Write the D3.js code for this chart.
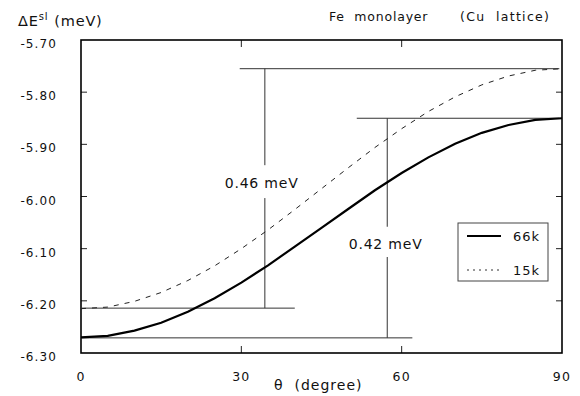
<!DOCTYPE html>
<html>
<head>
<meta charset="utf-8">
<script src="https://cdnjs.cloudflare.com/ajax/libs/d3/7.8.5/d3.min.js"></script>
<style>
  body { margin: 0; background: #fff; }
  text { font-family: "DejaVu Sans", sans-serif; fill: #111; }
</style>
</head>
<body>
<div id="wrapper"></div>
<script>
// angles (degree) and anisotropy energy (meV)
var theta = [0, 5, 10, 15, 20, 25, 30, 35, 40, 45, 50, 55, 60, 65, 70, 75, 80, 85, 90];
var e66k  = [-6.270, -6.267, -6.257, -6.242, -6.221, -6.195, -6.165, -6.132, -6.096, -6.060,
             -6.024, -5.988, -5.955, -5.925, -5.899, -5.878, -5.863, -5.853, -5.850];
var e15k  = [-6.215, -6.212, -6.201, -6.184, -6.161, -6.133, -6.100, -6.064, -6.025, -5.985,
             -5.945, -5.906, -5.870, -5.837, -5.809, -5.786, -5.769, -5.758, -5.755];
var seriesNames = ['66k', '15k'];

var xTicks = [0, 30, 60, 90];
var yTicks = [-5.70, -5.80, -5.90, -6.00, -6.10, -6.20, -6.30];

// differences min -> max for each k-mesh
var gapLabels = ['0.46 meV', '0.42 meV'];
var gapTheta  = [34.4, 57.3];
var gapLow    = [-6.214, -6.271];
var gapHigh   = [-5.755, -5.850];
var lowFrom   = [0, 0],      lowTo  = [40, 62];
var highFrom  = [29.7, 51.6], highTo = [89.5, 89.5];
var breakTop  = [-5.940, -6.058];   // vertical line stops above the label
var breakBot  = [-6.003, -6.116];   // and starts again under it
var labelTheta = [33.8, 57.0];
var labelE     = [-5.974, -6.091];

var W = 580, H = 396;
var m = {left: 81, right: 18, top: 40, bottom: 43};

var svg = d3.select('#wrapper').append('svg')
    .attr('width', W).attr('height', H);

var x = d3.scaleLinear().domain([0, 90]).range([m.left, W - m.right]);
var y = d3.scaleLinear().domain([-6.30, -5.70]).range([H - m.bottom, m.top]);

// inner ticks on the four sides
var inX = xTicks.slice(1, -1), inY = yTicks.slice(1, -1);
var ax = svg.append('g');
ax.selectAll('.tl').data(inY).enter().append('line')
    .attr('x1', x(0)).attr('x2', x(0) + 6).attr('y1', d => y(d)).attr('y2', d => y(d));
ax.selectAll('.tr').data(inY).enter().append('line')
    .attr('x1', x(90)).attr('x2', x(90) - 6).attr('y1', d => y(d)).attr('y2', d => y(d));
ax.selectAll('.tb').data(inX).enter().append('line')
    .attr('x1', d => x(d)).attr('x2', d => x(d)).attr('y1', y(-6.30)).attr('y2', y(-6.30) - 7);
ax.selectAll('.tt').data(inX).enter().append('line')
    .attr('x1', d => x(d)).attr('x2', d => x(d)).attr('y1', y(-5.70)).attr('y2', y(-5.70) + 7);
ax.selectAll('line').attr('stroke', '#222').attr('stroke-width', 1);

// tick labels
svg.selectAll('.ylab').data(yTicks).enter().append('text')
    .attr('x', 57).attr('y', d => y(d) + 8)
    .attr('text-anchor', 'end')
    .style('font-size', '12px').style('letter-spacing', '1.1px')
    .text(d => d.toFixed(2));
svg.selectAll('.xlab').data(xTicks).enter().append('text')
    .attr('x', d => x(d)).attr('y', 381)
    .attr('text-anchor', 'middle')
    .style('font-size', '12.5px').style('letter-spacing', '1.2px')
    .text(d => d);

// frame
svg.append('rect')
    .attr('x', x(0)).attr('y', y(-5.70))
    .attr('width', x(90) - x(0)).attr('height', y(-6.30) - y(-5.70))
    .attr('fill', 'none').attr('stroke', '#000').attr('stroke-width', 1.6);

// reference lines for the energy differences
var ref = svg.append('g').attr('stroke', '#333').attr('stroke-width', 1);
for (var i = 0; i < gapLabels.length; i++) {
    ref.append('line').attr('x1', x(lowFrom[i])).attr('x2', x(lowTo[i]))
        .attr('y1', y(gapLow[i])).attr('y2', y(gapLow[i]));
    ref.append('line').attr('x1', x(highFrom[i])).attr('x2', x(highTo[i]))
        .attr('y1', y(gapHigh[i])).attr('y2', y(gapHigh[i]));
    ref.append('line').attr('x1', x(gapTheta[i])).attr('x2', x(gapTheta[i]))
        .attr('y1', y(gapHigh[i])).attr('y2', y(breakTop[i]));
    ref.append('line').attr('x1', x(gapTheta[i])).attr('x2', x(gapTheta[i]))
        .attr('y1', y(breakBot[i])).attr('y2', y(gapLow[i]));
    svg.append('text')
        .attr('x', x(labelTheta[i])).attr('y', y(labelE[i]) + 5)
        .attr('text-anchor', 'middle')
        .style('font-size', '14px').style('letter-spacing', '0.8px')
        .text(gapLabels[i]);
}

// curves
var line = d3.line().x((d, i) => x(theta[i])).y(d => y(d));
svg.append('path').datum(e15k).attr('d', line)
    .attr('fill', 'none').attr('stroke', '#222').attr('stroke-width', 1)
    .attr('stroke-dasharray', '5,6');
svg.append('path').datum(e66k).attr('d', line)
    .attr('fill', 'none').attr('stroke', '#000').attr('stroke-width', 2.2);

// legend
var lg = svg.append('g');
lg.append('rect').attr('x', 458).attr('y', 223).attr('width', 90).attr('height', 58)
    .attr('fill', '#fff').attr('stroke', '#444').attr('stroke-width', 1);
lg.append('line').attr('x1', 467).attr('x2', 501).attr('y1', 236).attr('y2', 236)
    .attr('stroke', '#000').attr('stroke-width', 2);
lg.append('line').attr('x1', 467).attr('x2', 501).attr('y1', 270).attr('y2', 270)
    .attr('stroke', '#333').attr('stroke-width', 1).attr('stroke-dasharray', '2,4');
lg.selectAll('text').data(seriesNames).enter().append('text')
    .attr('x', 513).attr('y', (d, i) => 241 + i * 34)
    .style('font-size', '13px').style('letter-spacing', '1px')
    .text(d => d);

// axis titles
var yt = svg.append('text').attr('x', 18).attr('y', 26)
    .style('font-size', '14.5px').style('letter-spacing', '0.8px');
yt.append('tspan').text('\u0394E');
yt.append('tspan').attr('dy', -6).style('font-size', '10px').text('sl');
yt.append('tspan').attr('dy', 6).attr('dx', 6).text('(meV)');

svg.append('text').attr('x', 329).attr('y', 21)
    .style('font-size', '12.5px').style('letter-spacing', '0.8px').style('white-space', 'pre')
    .text('Fe  monolayer');
svg.append('text').attr('x', 460).attr('y', 21)
    .style('font-size', '12.5px').style('letter-spacing', '1.3px').style('white-space', 'pre')
    .text('(Cu  lattice)');

svg.append('text').attr('x', 274).attr('y', 390)
    .style('font-size', '14px').style('letter-spacing', '1px').style('white-space', 'pre')
    .text('\u03b8  (degree)');
</script>
</body>
</html>
